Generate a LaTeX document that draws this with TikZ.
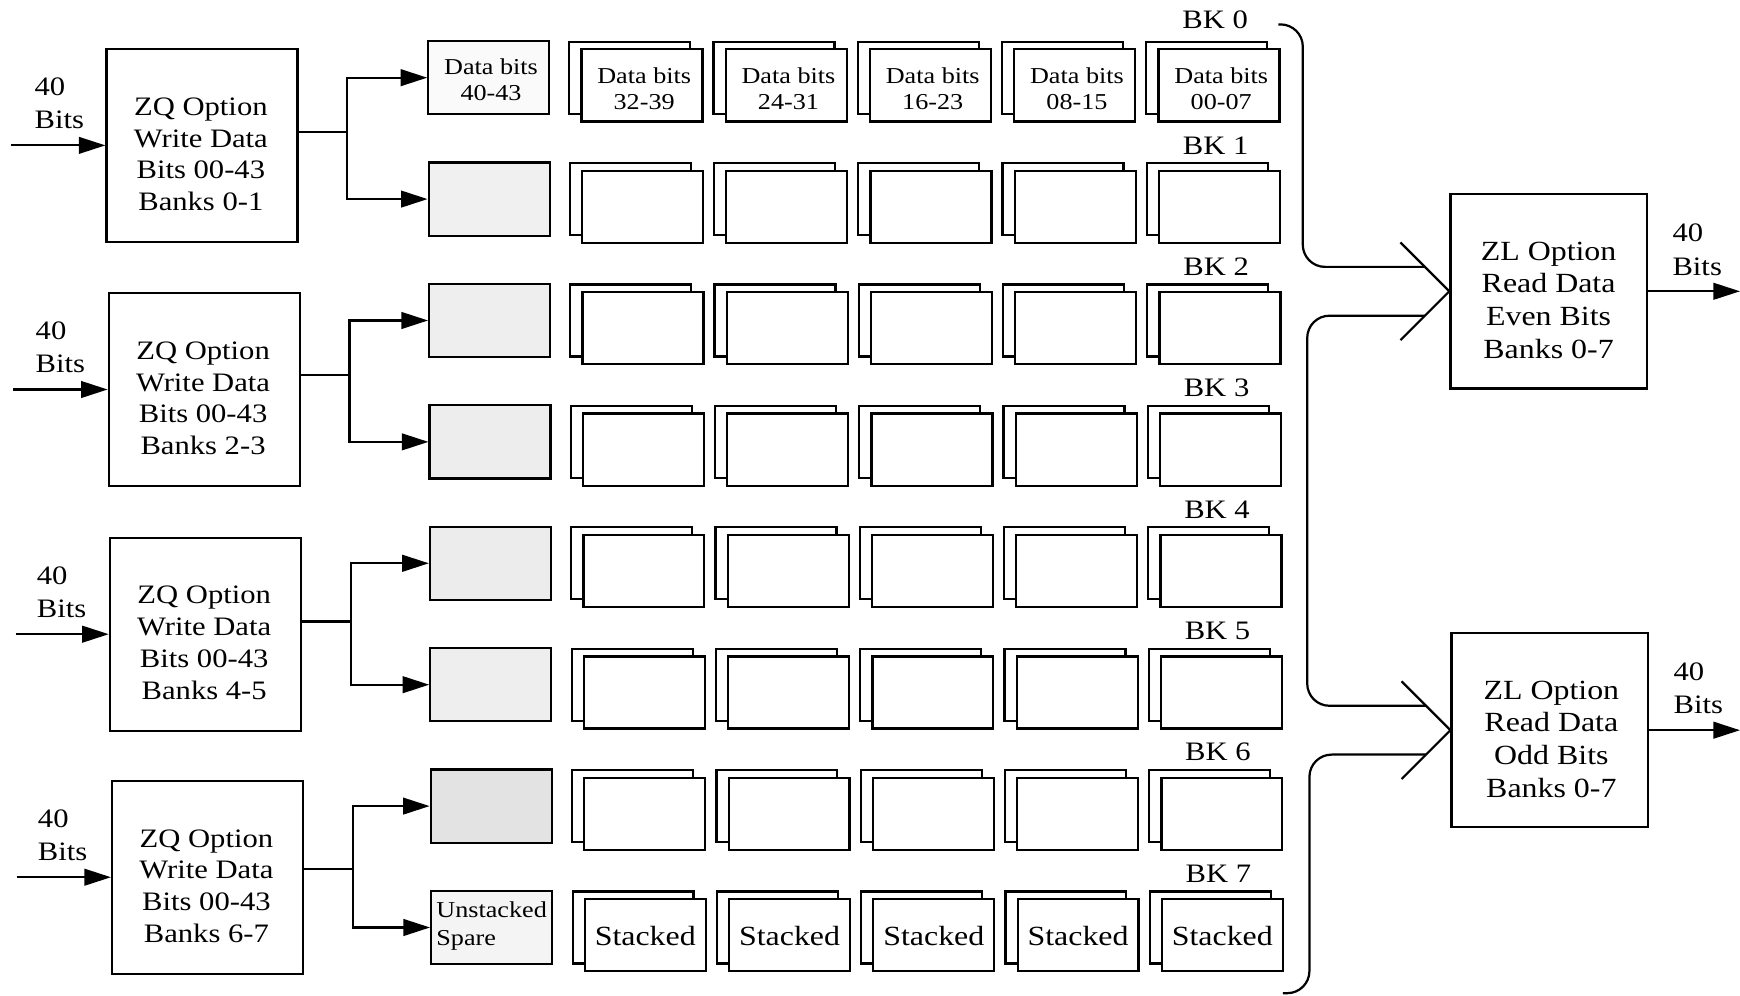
\documentclass[tikz,border=0pt]{standalone}
\usepackage{fontspec}
\setmainfont{Liberation Serif}[FakeStretch=1.15]
\usetikzlibrary{arrows.meta,calc}
\begin{document}
\begin{tikzpicture}[x=1pt,y=-1pt,
  box/.style={draw,line width=2pt,fill=white,inner sep=0pt},
  zqbox/.style={box,minimum width=172pt,minimum height=174pt},
  zlbox/.style={box,minimum width=177pt,minimum height=175pt},
  cell/.style={box,minimum width=109pt,minimum height=65pt},
  sparebox/.style={box,minimum width=109pt,minimum height=66pt},
  wire/.style={line width=2pt},
  arr/.style={wire,-{Triangle[length=24pt,width=15pt]}},
  bus/.style={wire,rounded corners=20pt},
  bigtext/.style={font=\fontsize{24}{28.7}\selectfont,align=center,inner sep=0pt},
  zltext/.style={font=\fontsize{25}{29.5}\selectfont,align=center,inner sep=0pt},
  dbits/.style={font=\fontsize{20.5}{23}\selectfont,align=center,inner sep=0pt},
  stk/.style={font=\fontsize{25}{29}\selectfont,inner sep=0pt},
  unst/.style={font=\fontsize{20.5}{25}\selectfont,align=left,inner sep=0pt},
  bklabel/.style={font=\fontsize{24}{28}\selectfont,inner sep=0pt},
  bitslabel/.style={font=\fontsize{24}{30}\selectfont,align=left,inner sep=0pt,anchor=west}]

\fill[white] (0,0) rectangle (1568,897);
\useasboundingbox (0,0) rectangle (1568,897);

% ---- memory array: spare column + 5 stacked columns ----
\foreach \r/\g in {0/4,1/12,2/13,3/14,4/15,5/13,6/22,7/9} {
  \pgfmathsetmacro{\fy}{77+109.4*\r}
  \pgfmathsetmacro{\dx}{0.43*\r}
  \pgfmathsetmacro{\bky}{\fy-55.5-3.5*(\r==0)}
  \foreach \c in {1,...,5} {
    \pgfmathsetmacro{\fx}{578.5+130*(\c-1)+\dx}
    \node[cell] (b-\r-\c) at (\fx-11,\fy-7) {};
    \node[cell] (f-\r-\c) at (\fx,\fy) {};
  }
  \node[sparebox,fill=gray!\g] (s-\r) at (440.5+0.36*\r,\fy-7) {};
  \node[bklabel] (bk-\r) at (1095+\dx,\bky) {BK \r};
}

% texts of first and last bank
\foreach \c/\t in {1/32-39,2/24-31,3/16-23,4/08-15,5/00-07}
  \node[dbits] (d-\c) at ($(f-0-\c)+(2,3)$) {Data bits\\\t};
\node[dbits] (sd0) at ($(s-0)+(2,2)$) {Data bits\\40-43};
\foreach \c in {1,...,5}
  \node[stk] (st-\c) at ($(f-7-\c)+(0,1)$) {Stacked};
\node[unst] (su7) at ($(s-7)+(0,-1)$) {Unstacked\\Spare};

% ---- ZQ write option boxes ----
\foreach \i/\x/\y/\lo/\hi/\sx/\ex in {1/182/131/0/1/10/12,2/184/351/2/3/12/13,3/185/571.5/4/5/14/11.5,4/187/790.5/6/7/15/7.5} {
  \node[zqbox] (zq\i) at (\x,\y) {};
  \node[bigtext] (zqt\i) at (\x-1,\y+8) {ZQ Option\\Write Data\\Bits 00-43\\Banks \lo-\hi};
  \coordinate (in\i) at (\sx,\y);
  \draw[arr] (in\i) -- (zq\i.west);
  \node[bitslabel] (lb\i) at (30+\i,\y-38) {40\\Bits};
  \draw[wire] ([yshift=\ex pt]zq\i.east) -- ++(44,0) coordinate (j\i);
  \draw[arr] (j\i) |- (s-\lo.west);
  \draw[arr] (j\i) |- (s-\hi.west);
}

% ---- ZL read option boxes ----
\node[zlbox] (zl1) at (1395.5,262.5) {};
\node[zltext] (zlt1) at (1395.5,270.5) {ZL Option\\Read Data\\Even Bits\\Banks 0-7};
\node[zlbox] (zl2) at (1396.5,658) {};
\node[zltext] (zlt2) at (1398,666) {ZL Option\\Read Data\\Odd Bits\\Banks 0-7};

\coordinate (out1) at (1568,262.5);
\coordinate (out2) at (1568,658);
\foreach \i in {1,2} {
  \draw[wire] ([shift={(-44,-44)}]zl\i.west) -- (zl\i.west) -- ([shift={(-44,44)}]zl\i.west);
  \coordinate (u\i) at ([shift={(-22,-22)}]zl\i.west);
  \coordinate (l\i) at ([shift={(-22,22)}]zl\i.west);
  \draw[arr] (zl\i.east) -- (out\i);
}
\node[bitslabel] (ob1) at (1507,225) {40\\Bits};
\node[bitslabel] (ob2) at (1508,620) {40\\Bits};

% ---- read buses ----
\coordinate (bs) at (1152,22);
\coordinate (vx1) at (1178,0);
\coordinate (vx2) at (1180,0);
\coordinate (be) at (1156,895);
\draw[bus] (bs) -- ++(22,0) |- (u1);
\draw[bus] (l1) -- (l1 -| vx1) -- (u2 -| vx1) -- (u2);
\draw[bus] (l2) -- (l2 -| vx2) -- (be -| vx2) -- (be);

\end{tikzpicture}
\end{document}
